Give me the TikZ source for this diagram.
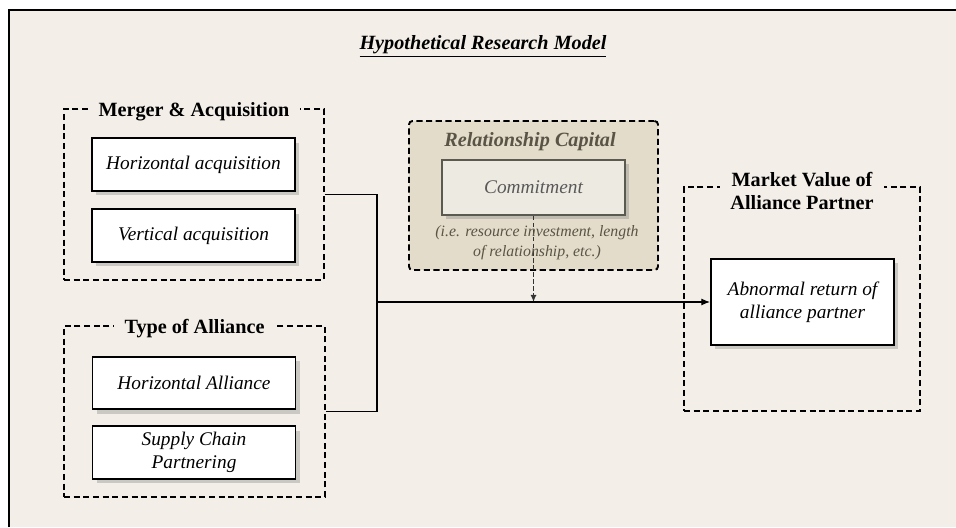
\documentclass[tikz,border=0pt]{standalone}
\usepackage{fontspec}
\setmainfont{Liberation Serif}
\usetikzlibrary{arrows.meta,positioning,shadows}
\definecolor{paper}{HTML}{F3EFE8}
\definecolor{capfill}{HTML}{E3DCCB}
\definecolor{comfill}{HTML}{EDEAE1}
\definecolor{captext}{HTML}{5A5446}
\definecolor{comline}{HTML}{5B5A50}

\begin{document}
\begin{tikzpicture}[
	grp/.style={draw,dash pattern=on 3.5pt off 2pt,line width=1.1pt},
	grptitle/.style={fill=paper,inner xsep=6pt,inner ysep=1pt,font=\fontsize{11.5}{13.5}\selectfont\bfseries,align=center},
	item/.style={draw,fill=white,line width=1.1pt,minimum width=4.06cm,minimum height=1.05cm,font=\fontsize{11}{13}\selectfont\itshape,align=center,drop shadow={shadow xshift=2.5pt,shadow yshift=-2.5pt,opacity=0.35}},
	link/.style={line width=0.6pt},
	]
	\useasboundingbox (0,0) rectangle (19.12,10.54);
	\fill[paper] (0.18,0) rectangle (19.12,10.34);
	\draw[line width=1pt] (0.18,0) -- (0.18,10.34) -- (19.12,10.34);
	\node (title) at (9.66,9.62) {\fontsize{11.5}{13.5}\selectfont\underline{\textbf{\textit{Hypothetical Research Model}}}};

	\node[grp,minimum width=5.2cm,minimum height=3.42cm] (ma) at (3.88,6.65) {};
	\node[grptitle] (matitle) at ([yshift=-0.08cm]ma.north) {Merger \& Acquisition};
	\node[item] (ha) at (3.87,7.25) {Horizontal acquisition};
	\node[item] (va) at (3.87,5.83) {Vertical acquisition};

	\node[grp,minimum width=5.22cm,minimum height=3.42cm] (toa) at (3.89,2.31) {};
	\node[grptitle] (toatitle) at ([yshift=-0.08cm]toa.north) {Type of Alliance};
	\node[item] (hal) at (3.88,2.88) {Horizontal Alliance};
	\node[item] (scp) at (3.88,1.49) {Supply Chain\\Partnering};

	\node[grp,fill=capfill,rounded corners=2pt,minimum width=4.98cm,minimum height=2.98cm] (rc) at (10.67,6.63) {};
	\node[text=captext,font=\fontsize{11.5}{13.5}\selectfont\bfseries\itshape] (rctitle) at (10.6,7.70) {Relationship Capital};
	\node[item,fill=comfill,draw=comline,text=black!65,minimum width=3.66cm,minimum height=1.1cm] (com) at (10.67,6.79) {Commitment};

	\node[grp,minimum width=4.72cm,minimum height=4.48cm] (mv) at (16.04,4.56) {};
	\node[grptitle] (mvtitle) at ([yshift=-0.1cm]mv.north) {Market Value of\\Alliance Partner};
	\node[item,minimum width=3.66cm,minimum height=1.72cm] (abn) at (16.05,4.50) {Abnormal return of\\alliance partner};

	\coordinate (join) at (7.54,4.50);
	\draw[link] (ma.east) -| (join);
	\draw[link] (toa.east) -| (join);
	\draw[link,-{Latex[length=5pt,width=4pt]}] (join) -- (abn.west);
	\draw[line width=0.8pt,draw=black!80,dash pattern=on 2.5pt off 1.5pt,-{Latex[length=4pt,width=3.5pt]}] (com.south) -- (com.south |- join);
	\node[text=captext,font=\fontsize{9}{11.4}\selectfont\itshape,align=center] (note) at (10.74,5.68) {(i.e. resource investment, length\\of relationship, etc.)};
\end{tikzpicture}
\end{document}
